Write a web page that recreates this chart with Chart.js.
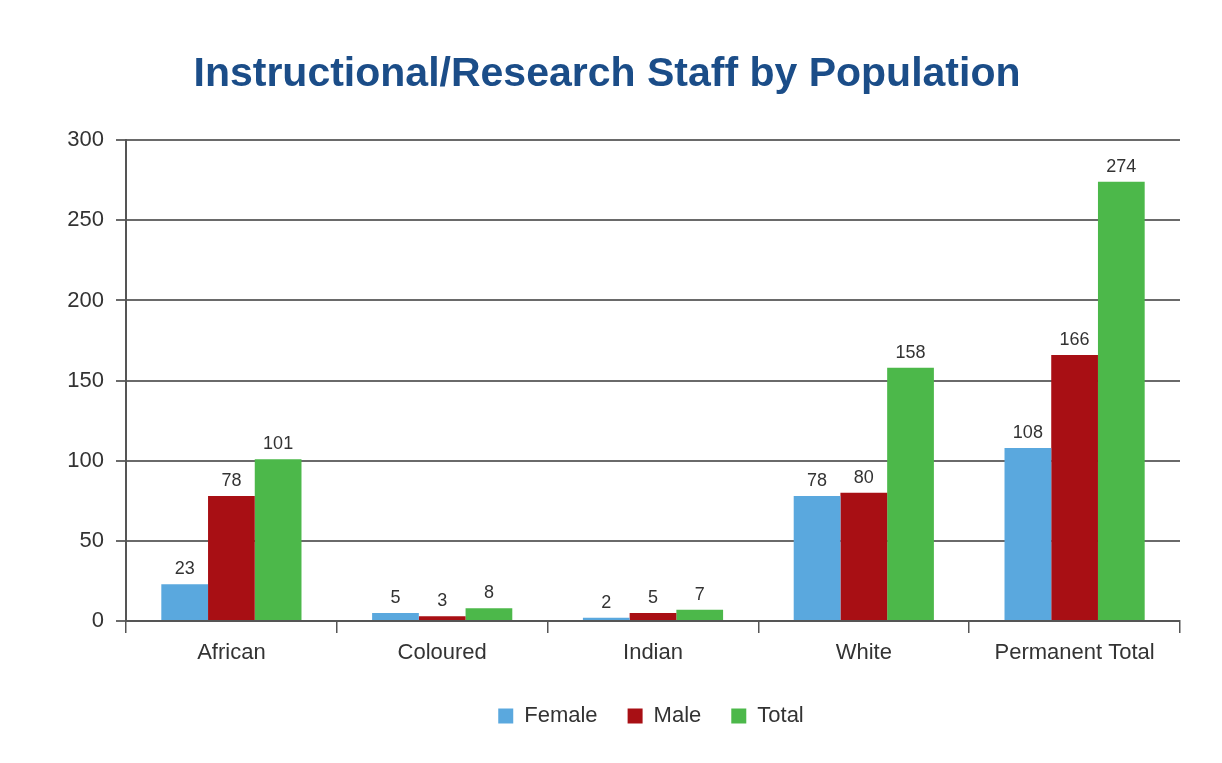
<!DOCTYPE html>
<html>
<head>
<meta charset="utf-8">
<script src="https://cdn.jsdelivr.net/npm/chart.js@4"></script>
<style>
html,body{margin:0;padding:0;background:#fff;}
#wrap{width:1222px;height:763px;}
</style>
</head>
<body>
<div id="wrap"><canvas id="c" width="1222" height="763"></canvas></div>
<script>
const categories = ["African", "Coloured", "Indian", "White", "Permanent Total"];
const female = [23, 5, 2, 78, 108];
const male = [78, 3, 5, 80, 166];
const total = [101, 8, 7, 158, 274];
const yTicks = [0, 50, 100, 150, 200, 250, 300];

const FONT = "'Liberation Sans', Arial, Helvetica, sans-serif";

const valueLabels = {
  id: 'valueLabels',
  afterDatasetsDraw(chart) {
    const ctx = chart.ctx;
    ctx.save();
    ctx.font = "18px " + FONT;
    ctx.fillStyle = '#333';
    ctx.textAlign = 'center';
    ctx.textBaseline = 'middle';
    chart.data.datasets.forEach((ds, i) => {
      const meta = chart.getDatasetMeta(i);
      meta.data.forEach((bar, j) => {
        ctx.fillText(String(ds.data[j]), bar.x, bar.y - 15);
      });
    });
    ctx.restore();
  }
};

const blockShift = {
  id: 'blockShift',
  afterLayout(chart) {
    if (chart.titleBlock) { chart.titleBlock.left = 34; }
    if (chart.legend) { chart.legend.left = 122; }
  }
};

new Chart(document.getElementById('c'), {
  type: 'bar',
  data: {
    labels: categories,
    datasets: [
      { label: 'Female', data: female, backgroundColor: '#5aa8de' },
      { label: 'Male', data: male, backgroundColor: '#a80f14' },
      { label: 'Total', data: total, backgroundColor: '#4cb84a' }
    ]
  },
  options: {
    responsive: false,
    animation: false,
    devicePixelRatio: 1,
    layout: { padding: { left: 0, right: 42, top: 0, bottom: 26 } },
    datasets: { bar: { barPercentage: 1, categoryPercentage: 0.665 } },
    plugins: {
      title: {
        display: true,
        text: 'Instructional/Research Staff by Population',
        color: '#1b4d88',
        font: { family: FONT, size: 41, weight: 'bold', lineHeight: 1.2 },
        padding: { top: 50, bottom: 41 }
      },
      legend: {
        position: 'bottom',
        labels: {
          color: '#333',
          font: { family: FONT, size: 22 },
          boxWidth: 15, boxHeight: 15,
          padding: 30
        }
      },
      tooltip: { enabled: false }
    },
    scales: {
      x: {
        afterFit(scale) { scale.height = 54; },
        grid: { drawOnChartArea: false, drawTicks: true, tickLength: 12, color: '#555', lineWidth: 1.5 },
        border: { color: '#555', width: 2 },
        ticks: { color: '#333', font: { family: FONT, size: 22 }, padding: 7 }
      },
      y: {
        min: 0, max: 300,
        afterFit(scale) { scale.width = 126; },
        afterBuildTicks(scale) { scale.ticks = yTicks.map(v => ({ value: v })); },
        grid: { color: '#6a6a6a', lineWidth: 2, tickLength: 10 },
        border: { color: '#555', width: 2 },
        ticks: { color: '#333', font: { family: FONT, size: 22 }, padding: 12 }
      }
    }
  },
  plugins: [valueLabels, blockShift]
});
</script>
</body>
</html>
